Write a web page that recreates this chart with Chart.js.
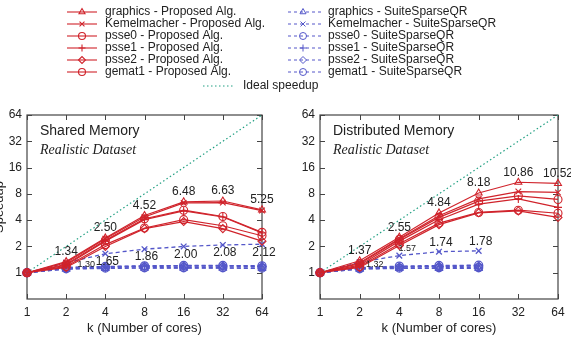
<!DOCTYPE html>
<html>
<head>
<meta charset="utf-8">
<title>Speedup - Realistic Dataset</title>
<script src="https://cdn.jsdelivr.net/npm/chart.js"></script>
<style>
  html, body { margin: 0; padding: 0; background: #fff; }
  #wrap { position: relative; width: 571px; height: 338px; overflow: hidden; }
  #wrap canvas { position: absolute; left: 0; top: 0; }
</style>
</head>
<body>
<div id="wrap">
  <canvas id="sharedChart" width="571" height="338"></canvas>
  <canvas id="distChart" width="571" height="338"></canvas>
</div>
<script>
// x: number of cores, y: speedup (both log2)
const cores = [1, 2, 4, 8, 16, 32, 64];
const speedupTicks = [1, 2, 4, 8, 16, 32, 64];
const idealSpeedup = [1, 2, 4, 8, 16, 32, 64];
const matrices = ['graphics', 'Kemelmacher', 'psse0', 'psse1', 'psse2', 'gemat1'];
const markers = ['triangle', 'crossRot', 'circle', 'cross', 'rectRot', 'circle'];

// Shared memory - proposed algorithm
const shGraphicsAlg    = [1, 1.34, 2.50, 4.52, 6.48, 6.63, 5.25];
const shKemelmacherAlg = [1, 1.30, 2.45, 4.35, 6.30, 6.35, 5.15];
const shPsse0Alg       = [1, 1.25, 2.35, 4.15, 5.20, 4.40, 2.90];
const shPsse1Alg       = [1, 1.22, 2.30, 4.05, 5.10, 4.35, 2.85];
const shPsse2Alg       = [1, 1.15, 2.00, 3.20, 3.85, 3.20, 2.30];
const shGemat1Alg      = [1, 1.18, 2.10, 3.25, 4.05, 3.45, 2.65];
// Shared memory - SuiteSparseQR
const shGraphicsQR     = [1, 1.10, 1.12, 1.13, 1.13, 1.13, 1.12];
const shKemelmacherQR  = [1, 1.30, 1.65, 1.86, 2.00, 2.08, 2.12];
const shPsse0QR        = [1, 1.15, 1.18, 1.20, 1.21, 1.21, 1.20];
const shPsse1QR        = [1, 1.14, 1.17, 1.19, 1.20, 1.20, 1.19];
const shPsse2QR        = [1, 1.12, 1.15, 1.18, 1.19, 1.19, 1.18];
const shGemat1QR       = [1, 1.11, 1.13, 1.14, 1.14, 1.14, 1.13];

// Distributed memory - proposed algorithm
const diGraphicsAlg    = [1, 1.37, 2.55, 4.84, 8.18, 10.86, 10.52];
const diKemelmacherAlg = [1, 1.30, 2.45, 4.50, 7.00, 8.50, 8.30];
const diPsse0Alg       = [1, 1.27, 2.40, 4.30, 6.60, 7.60, 6.90];
const diPsse1Alg       = [1, 1.22, 2.30, 4.05, 6.10, 7.00, 5.60];
const diPsse2Alg       = [1, 1.15, 2.05, 3.55, 4.85, 5.10, 4.30];
const diGemat1Alg      = [1, 1.18, 2.15, 3.70, 4.90, 5.20, 4.80];
// Distributed memory - SuiteSparseQR (up to 16 cores)
const diGraphicsQR     = [1, 1.10, 1.12, 1.12, 1.12];
const diKemelmacherQR  = [1, 1.32, 1.57, 1.74, 1.78];
const diPsse0QR        = [1, 1.14, 1.19, 1.21, 1.22];
const diPsse1QR        = [1, 1.13, 1.17, 1.19, 1.20];
const diPsse2QR        = [1, 1.12, 1.16, 1.18, 1.19];
const diGemat1QR       = [1, 1.11, 1.13, 1.14, 1.14];

const sharedAlg = [shGraphicsAlg, shKemelmacherAlg, shPsse0Alg, shPsse1Alg, shPsse2Alg, shGemat1Alg];
const sharedQR  = [shGraphicsQR, shKemelmacherQR, shPsse0QR, shPsse1QR, shPsse2QR, shGemat1QR];
const distAlg   = [diGraphicsAlg, diKemelmacherAlg, diPsse0Alg, diPsse1Alg, diPsse2Alg, diGemat1Alg];
const distQR    = [diGraphicsQR, diKemelmacherQR, diPsse0QR, diPsse1QR, diPsse2QR, diGemat1QR];

const RED = '#d0232b';
const BLUE = '#5457c9';
const TEAL = '#22a083';
const INK = '#222';
const SANS = '"Liberation Sans", Arial, sans-serif';
const SERIF = '"Liberation Serif", "Times New Roman", serif';

function toPoints(vals) {
    return vals.map((v, j) => ({ x: cores[j], y: v }));
}

function buildDatasets(alg, qr) {
    const sets = [];
    alg.forEach((vals, i) => sets.push({
        label: matrices[i] + ' - Proposed Alg.',
        data: toPoints(vals),
        borderColor: RED,
        borderWidth: 1.2,
        pointStyle: markers[i],
        pointRadius: 4,
        pointBorderColor: RED,
        pointBorderWidth: 1.1,
        pointBackgroundColor: 'rgba(0,0,0,0)',
        clip: false
    }));
    qr.forEach((vals, i) => sets.push({
        label: matrices[i] + ' - SuiteSparseQR',
        data: toPoints(vals),
        borderColor: BLUE,
        borderWidth: 1.3,
        borderDash: [4, 3],
        pointStyle: markers[i],
        pointRadius: 4,
        pointBorderColor: BLUE,
        pointBorderWidth: 1.3,
        pointBackgroundColor: 'rgba(0,0,0,0)',
        clip: false
    }));
    sets.push({
        label: 'Ideal speedup',
        data: toPoints(idealSpeedup),
        borderColor: TEAL,
        borderWidth: 1.2,
        borderDash: [1.5, 2.5],
        pointRadius: 0
    });
    return sets;
}

// plot frame with small inward ticks on all four sides
const framePlugin = {
    id: 'frame',
    beforeDatasetsDraw(chart) {
        const { ctx, chartArea: a, scales: { x, y } } = chart;
        ctx.save();
        ctx.strokeStyle = '#444';
        ctx.lineWidth = 1.2;
        ctx.strokeRect(a.left, a.top, a.right - a.left, a.bottom - a.top);
        ctx.lineWidth = 1;
        ctx.beginPath();
        speedupTicks.forEach(v => {
            const py = Math.round(y.getPixelForValue(v)) + 0.5;
            ctx.moveTo(a.left, py); ctx.lineTo(a.left + 5, py);
            ctx.moveTo(a.right, py); ctx.lineTo(a.right - 5, py);
        });
        cores.forEach(k => {
            const px = Math.round(x.getPixelForValue(k)) + 0.5;
            ctx.moveTo(px, a.bottom); ctx.lineTo(px, a.bottom - 5);
            ctx.moveTo(px, a.top); ctx.lineTo(px, a.top + 5);
        });
        ctx.stroke();
        ctx.restore();
    }
};

// in-plot title ("Shared Memory" / "Realistic Dataset") and optional y title
const titlesPlugin = {
    id: 'titles',
    afterDraw(chart, args, opts) {
        const { ctx, chartArea: a } = chart;
        ctx.save();
        ctx.fillStyle = INK;
        ctx.textAlign = 'left';
        ctx.textBaseline = 'middle';
        ctx.font = '14px ' + SANS;
        ctx.fillText(opts.title, a.left + 13, 131);
        ctx.font = 'italic 14px ' + SERIF;
        ctx.fillText(opts.subtitle, a.left + 13, 150);
        if (opts.yTitle) {
            ctx.translate(3, (a.top + a.bottom) / 2);
            ctx.rotate(-Math.PI / 2);
            ctx.textAlign = 'center';
            ctx.textBaseline = 'alphabetic';
            ctx.font = '13px ' + SANS;
            ctx.fillText(opts.yTitle, 0, 0);
        }
        ctx.restore();
    }
};

// speedup numbers written next to the best proposed / Kemelmacher SuiteSparseQR points
const valueLabelsPlugin = {
    id: 'valueLabels',
    afterDatasetsDraw(chart, args, opts) {
        const { ctx, scales: { x, y } } = chart;
        ctx.save();
        ctx.fillStyle = INK;
        ctx.textAlign = 'center';
        ctx.textBaseline = 'middle';
        ctx.font = '12px ' + SANS;
        opts.top.forEach((v, i) => {
            if (i === 0) return;
            ctx.fillText(v.toFixed(2), x.getPixelForValue(cores[i]), y.getPixelForValue(v) - 10);
        });
        opts.lower.forEach((v, i) => {
            if (i === 0) return;
            const px = x.getPixelForValue(cores[i]);
            const py = y.getPixelForValue(v);
            const small = opts.small[i];
            if (small) {
                ctx.font = '9px ' + SANS;
                ctx.fillText(v.toFixed(2), px + small[0], py + small[1]);
                ctx.font = '12px ' + SANS;
            } else {
                ctx.fillText(v.toFixed(2), px + 2, py + opts.lowerOffset);
            }
        });
        ctx.restore();
    }
};

// two-column key across the top of the figure
const keyPlugin = {
    id: 'key',
    afterDraw(chart, args, opts) {
        if (!opts.show) return;
        const ctx = chart.ctx;
        const drawPoint = Chart.helpers && Chart.helpers.drawPoint;
        ctx.save();
        ctx.font = '12px ' + SANS;
        ctx.textBaseline = 'middle';
        ctx.textAlign = 'left';
        matrices.forEach((name, i) => {
            const ry = 12 + i * 12;
            // proposed
            ctx.strokeStyle = RED; ctx.lineWidth = 1.1; ctx.setLineDash([]);
            ctx.beginPath(); ctx.moveTo(67, ry); ctx.lineTo(97, ry); ctx.stroke();
            ctx.fillStyle = 'rgba(0,0,0,0)';
            if (drawPoint) drawPoint(ctx, { pointStyle: markers[i], radius: 3.5, rotation: 0, borderWidth: 1 }, 82, ry);
            ctx.fillStyle = INK;
            ctx.fillText(name + ' - Proposed Alg.', 105, ry);
            // SuiteSparseQR
            ctx.strokeStyle = BLUE; ctx.lineWidth = 1;
            ctx.setLineDash([3, 3]);
            ctx.beginPath(); ctx.moveTo(288, ry); ctx.lineTo(322, ry); ctx.stroke();
            ctx.setLineDash([]);
            ctx.fillStyle = 'rgba(0,0,0,0)';
            if (drawPoint) drawPoint(ctx, { pointStyle: markers[i], radius: 3.5, rotation: 0, borderWidth: 1 }, 303, ry);
            ctx.fillStyle = INK;
            ctx.fillText(name + ' - SuiteSparseQR', 328, ry);
        });
        ctx.strokeStyle = TEAL; ctx.lineWidth = 1;
        ctx.setLineDash([1.5, 2.5]);
        ctx.beginPath(); ctx.moveTo(203, 86); ctx.lineTo(235, 86); ctx.stroke();
        ctx.setLineDash([]);
        ctx.fillStyle = INK;
        ctx.fillText('Ideal speedup', 243, 86);
        ctx.restore();
    }
};

function makeChart(canvasId, alg, qr, cfg) {
    const tickFont = { family: SANS, size: 12 };
    return new Chart(document.getElementById(canvasId), {
        type: 'line',
        data: { datasets: buildDatasets(alg, qr) },
        plugins: [framePlugin, titlesPlugin, valueLabelsPlugin, keyPlugin],
        options: {
            responsive: false,
            animation: false,
            devicePixelRatio: 1,
            layout: { padding: cfg.padding },
            scales: {
                x: {
                    type: 'logarithmic',
                    min: 1,
                    max: 64,
                    afterBuildTicks: s => { s.ticks = cores.map(v => ({ value: v })); },
                    afterFit: s => { s.height = 39; },
                    ticks: { callback: v => String(v), font: tickFont, color: INK, padding: 6, maxRotation: 0, autoSkip: false },
                    grid: { display: false, drawTicks: false },
                    border: { display: false },
                    title: { display: true, text: 'k (Number of cores)', font: { family: SANS, size: 13 }, color: INK, padding: { top: 0, bottom: 2 } }
                },
                y: {
                    type: 'logarithmic',
                    min: 0.5,
                    max: 64,
                    afterBuildTicks: s => { s.ticks = speedupTicks.map(v => ({ value: v })); },
                    afterFit: s => { s.width = 27; },
                    ticks: { callback: v => String(v), font: tickFont, color: INK, padding: 5, autoSkip: false },
                    grid: { display: false, drawTicks: false },
                    border: { display: false }
                }
            },
            plugins: {
                legend: { display: false },
                tooltip: { enabled: false },
                titles: { title: cfg.title, subtitle: 'Realistic Dataset', yTitle: cfg.yTitle },
                valueLabels: cfg.labels,
                key: { show: cfg.showKey }
            }
        }
    });
}

makeChart('sharedChart', sharedAlg, sharedQR, {
    padding: { left: 0, top: 115, right: 309, bottom: 0 },
    title: 'Shared Memory',
    yTitle: 'Speedup',
    showKey: true,
    labels: { top: shGraphicsAlg, lower: shKemelmacherQR, lowerOffset: 8, small: { 1: [20, 2] } }
});

makeChart('distChart', distAlg, distQR, {
    padding: { left: 293, top: 115, right: 13, bottom: 0 },
    title: 'Distributed Memory',
    yTitle: null,
    showKey: false,
    labels: { top: diGraphicsAlg, lower: diKemelmacherQR, lowerOffset: -9, small: { 1: [15, 2], 2: [8, -7] } }
});
</script>
</body>
</html>
